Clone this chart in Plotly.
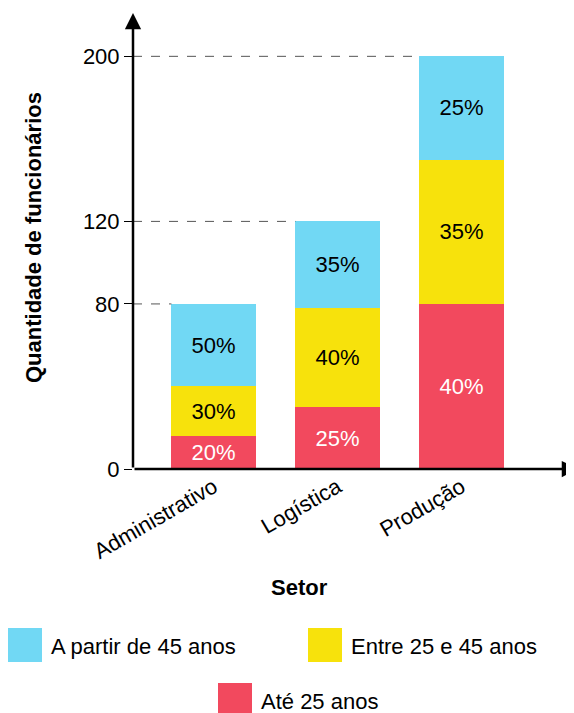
import plotly.graph_objects as go

setores = ["Administrativo", "Logística", "Produção"]
totais = [80, 120, 200]
pct_ate25 = [20, 25, 40]
pct_25a45 = [30, 40, 35]
pct_45mais = [50, 35, 25]
y_ticks = [0, 80, 120, 200]

series = [
    ("Até 25 anos", pct_ate25, "#f2495e", "white"),
    ("Entre 25 e 45 anos", pct_25a45, "#f7e20c", "black"),
    ("A partir de 45 anos", pct_45mais, "#71d8f4", "black"),
]
W = 0.68
XL, XR, YT = -0.65, 2.94, 221
font = "Liberation Sans, Arial, sans-serif"
FS = 22

fig = go.Figure()
for name, pct, col, tc in series:
    vals = [t * p / 100 for t, p in zip(totais, pct)]
    fig.add_bar(x=list(range(3)), y=vals, name=name, marker_color=col, marker_line_width=0,
                width=W, text=[f"{p}%" for p in pct], textposition="inside",
                insidetextanchor="middle", textfont=dict(color=tc, size=FS, family=font),
                showlegend=False)

for i, t in enumerate(totais):
    fig.add_shape(type="line", x0=XL, x1=i - W / 2, y0=t, y1=t,
                  line=dict(color="#555", width=1, dash="dash"))

fig.add_annotation(x=XL, y=YT, ax=XL, ay=0, xref="x", yref="y", axref="x", ayref="y",
                   showarrow=True, arrowhead=2, arrowsize=1.3, arrowwidth=2.5, arrowcolor="black", text="")
fig.add_annotation(x=XR, y=0, ax=XL, ay=0, xref="x", yref="y", axref="x", ayref="y",
                   showarrow=True, arrowhead=2, arrowsize=1.3, arrowwidth=2.5, arrowcolor="black", text="")

def px(xp): return (xp - 125) / 445
def py(yp): return (461 - yp) / 456
leg = [("A partir de 45 anos", "#71d8f4", 0, 620), ("Entre 25 e 45 anos", "#f7e20c", 300, 620),
       ("Até 25 anos", "#f2495e", 210, 675)]
for name, col, x0, y0 in leg:
    fig.add_shape(type="rect", xref="paper", yref="paper", x0=px(x0), x1=px(x0 + 34),
                  y0=py(y0), y1=py(y0 + 34), fillcolor=col, line_width=0)
    fig.add_annotation(text=name, xref="paper", yref="paper", x=px(x0 + 41), y=py(y0 + 18),
                       xanchor="left", yanchor="middle", showarrow=False,
                       font=dict(size=FS, family=font, color="black"))
fig.add_annotation(text="<b>Setor</b>", xref="paper", yref="paper", x=px(291), y=py(580),
                   xanchor="center", yanchor="middle", showarrow=False,
                   font=dict(size=FS, family=font, color="black"))
fig.add_annotation(text="<b>Quantidade de funcionários</b>", xref="paper", yref="paper",
                   x=px(25), y=py(230), textangle=-90, xanchor="center", yanchor="middle",
                   showarrow=False, font=dict(size=FS, family=font, color="black"))

fig.update_layout(
    width=574, height=713, margin=dict(l=125, r=4, t=5, b=252, autoexpand=False),
    plot_bgcolor="white", paper_bgcolor="white", barmode="stack",
    font=dict(family=font, size=FS, color="black"),
    xaxis=dict(range=[XL, XR], tickvals=list(range(3)), ticktext=setores, tickangle=-30,
               showgrid=False, zeroline=False, showline=False, ticks="", automargin=False),
    yaxis=dict(range=[0, YT], tickvals=y_ticks, showgrid=False, zeroline=False,
               showline=False, ticks="outside", ticklen=8, tickcolor="black", automargin=False),
)
fig.write_html("out.html")
